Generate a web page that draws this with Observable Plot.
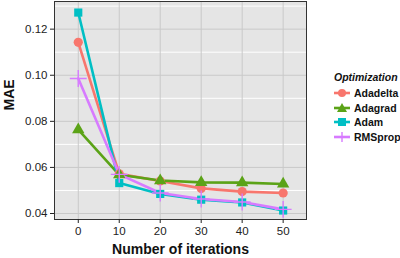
<!DOCTYPE html>
<html><head><meta charset="utf-8">
<script src="https://cdn.jsdelivr.net/npm/d3@7"></script>
<script src="https://cdn.jsdelivr.net/npm/@observablehq/plot@0.6"></script>
<style>
body{margin:0;background:#fff;font-family:"Liberation Sans",Arial,sans-serif;}
#wrap{position:relative;width:400px;height:258px;}
#legend{position:absolute;left:334px;top:71px;font-family:"Liberation Sans",Arial,sans-serif;}
#legend .t{font-weight:bold;font-style:italic;font-size:10.5px;color:#111;margin-bottom:3px;}
#legend .r{display:flex;align-items:center;height:14.5px;font-weight:bold;font-size:10.5px;color:#111;}
#legend svg{margin-right:4px;}
</style></head>
<body><div id="wrap"><div id="legend"></div></div>
<script>
const iterations = [0, 10, 20, 30, 40, 50];
const adadelta = [0.1143, 0.0572, 0.0541, 0.0509, 0.0495, 0.0489];
const adagrad  = [0.0764, 0.0568, 0.0543, 0.0535, 0.0534, 0.0528];
const adam     = [0.1272, 0.0532, 0.0485, 0.0460, 0.0448, 0.0413];
const rmsprop  = [0.0986, 0.0570, 0.0489, 0.0463, 0.0450, 0.0418];
const seriesNames = ["Adadelta", "Adagrad", "Adam", "RMSprop"];
const seriesColors = ["#F8766D", "#5BA317", "#00BFC4", "#D77BFF"];
const seriesSymbols = ["circle", "triangle", "square", "plus"];
const yTicks = [0.04, 0.06, 0.08, 0.10, 0.12];
const yMinor = [0.05, 0.07, 0.09, 0.11, 0.13];
const xTicks = [0, 10, 20, 30, 40, 50];

const values = [adadelta, adagrad, adam, rmsprop];
const data = [];
seriesNames.forEach((s, i) => iterations.forEach((x, j) => data.push({series: s, x, y: values[i][j]})));

const color = {domain: seriesNames, range: seriesColors};
const filled = data.filter(d => d.series !== "RMSprop");
const plus = data.filter(d => d.series === "RMSprop");

const chart = Plot.plot({
  width: 400, height: 258,
  marginLeft: 54, marginRight: 94, marginTop: 1, marginBottom: 39,
  style: {fontFamily: "Liberation Sans, Arial, sans-serif", background: "transparent"},
  x: {domain: [-5.8, 55.7], ticks: xTicks, label: null},
  y: {domain: [0.0374, 0.132], ticks: yTicks, label: null},
  color,
  marks: [
    Plot.frame({fill: "#E5E5E5"}),
    Plot.ruleY(yMinor, {stroke: "#ffffff", strokeWidth: 1}),
    Plot.ruleY(yTicks, {stroke: "#C9C9C9", strokeWidth: 1}),
    Plot.ruleX(xTicks, {stroke: "#C9C9C9", strokeWidth: 1}),
    Plot.line(data, {x: "x", y: "y", z: "series", stroke: "series", strokeWidth: 2.6}),
    Plot.dot(filled, {x: "x", y: "y", fill: "series", symbol: "series", r: 4.6}),
    Plot.dot(plus, {x: "x", y: "y", stroke: "series", symbol: () => "plus", r: 5.5, strokeWidth: 1.4}),
    Plot.frame({stroke: "#333", strokeWidth: 1}),
    Plot.axisX({ticks: xTicks, tickSize: 4, tickPadding: 3, fontSize: 11.5, color: "#222", label: null, tickFormat: d => d}),
    Plot.axisY({ticks: yTicks, tickSize: 4, tickPadding: 3, fontSize: 11.5, color: "#222", label: null, tickFormat: d => d.toFixed(2)}),
    Plot.text(["Number of iterations"], {frameAnchor: "bottom", dy: 34, fontSize: 14, fontWeight: "bold", fill: "#111"}),
    Plot.text(["MAE"], {frameAnchor: "left", dx: -45, rotate: -90, fontSize: 14, fontWeight: "bold", fill: "#111"})
  ],
  symbol: {domain: seriesNames, range: seriesSymbols}
});
document.getElementById("wrap").prepend(chart);

const leg = document.getElementById("legend");
leg.innerHTML = '<div class="t">Optimization</div>';
const shapes = {
  circle: c => `<circle cx="8" cy="6" r="4" fill="${c}"/>`,
  triangle: c => `<path d="M8,1 L13,10 L3,10 Z" fill="${c}"/>`,
  square: c => `<rect x="4" y="2" width="8" height="8" fill="${c}"/>`,
  plus: c => `<path d="M8,1 V11 M3,6 H13" stroke="${c}" stroke-width="1.4"/>`
};
seriesNames.forEach((s, i) => {
  const c = seriesColors[i];
  const row = document.createElement("div");
  row.className = "r";
  row.innerHTML = `<svg width="16" height="12"><line x1="0" x2="16" y1="6" y2="6" stroke="${c}" stroke-width="2.6"/>${shapes[seriesSymbols[i]](c)}</svg>${s}`;
  leg.appendChild(row);
});
</script></body></html>
